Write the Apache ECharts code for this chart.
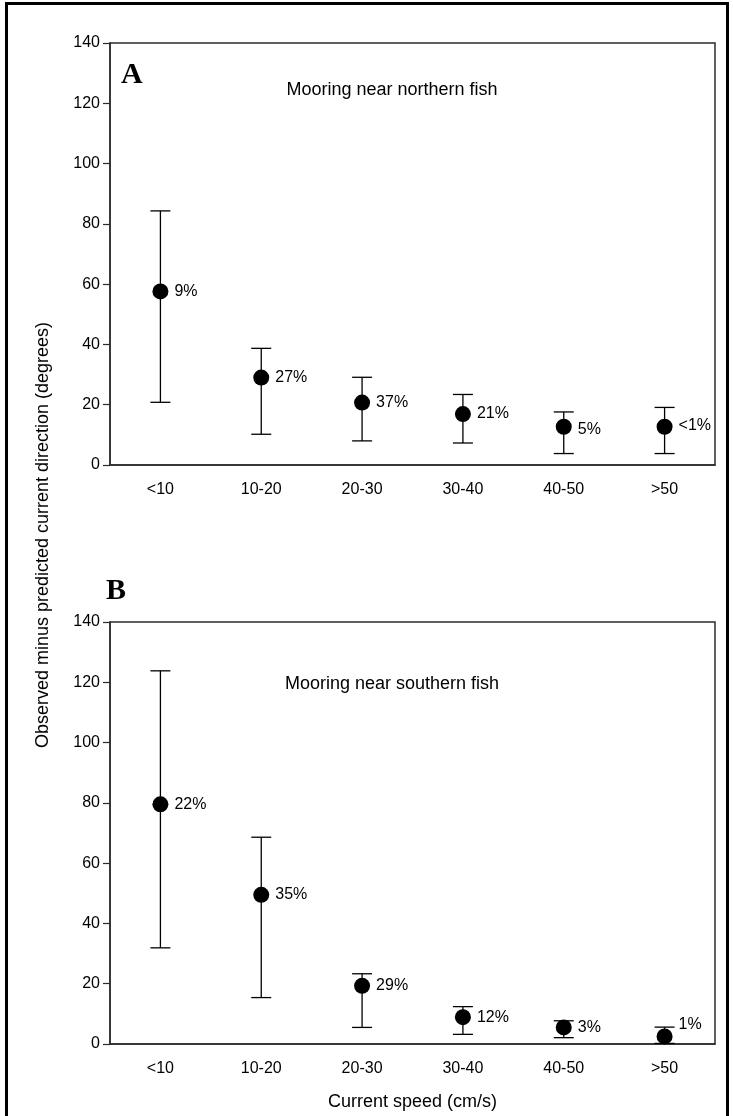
<!DOCTYPE html>
<html><head><meta charset="utf-8">
<script src="https://cdn.jsdelivr.net/npm/echarts@6/dist/echarts.min.js"></script>
<style>
html,body{margin:0;padding:0;background:#fff;}
#chart{position:absolute;left:0;top:0;width:733px;height:1116px;}
#frame{position:absolute;left:5px;top:2px;width:724px;height:1130px;border:3px solid #000;box-sizing:border-box;pointer-events:none;}
</style></head><body>
<div id="chart"></div><div id="frame"></div>
<script>
const categories = ['<10', '10-20', '20-30', '30-40', '40-50', '>50'];
const yTickMin = 0, yTickMax = 140, yTickStep = 20;

const meanA = [57.6, 29.0, 20.7, 16.9, 12.7, 12.7];
const lowA  = [20.8, 10.2, 8.0, 7.3, 3.8, 3.8];
const highA = [84.3, 38.7, 29.1, 23.4, 17.6, 19.1];
const pctA  = ['9%', '27%', '37%', '21%', '5%', '<1%'];

const meanB = [79.5, 49.5, 19.3, 8.9, 5.5, 2.5];
const lowB  = [31.9, 15.4, 5.5, 3.2, 2.1, 0.2];
const highB = [123.8, 68.6, 23.3, 12.4, 7.7, 5.6];
const pctB  = ['22%', '35%', '29%', '12%', '3%', '1%'];

const panelTitles = ['Mooring near northern fish', 'Mooring near southern fish'];
const panelLetters = ['A', 'B'];
const xTitle = 'Current speed (cm/s)';
const yTitle = 'Observed minus predicted current direction (degrees)';

const FONT = '"Liberation Sans", Arial, sans-serif';
const AX = '#2b2b2b';
const TXT = '#000';

function errorRender(params, api) {
  const x = api.value(0);
  const lo = api.coord([x, api.value(1)]);
  const hi = api.coord([x, api.value(2)]);
  const half = 10;
  const style = { stroke: '#000', lineWidth: 1.3 };
  return { type: 'group', children: [
    { type: 'line', shape: { x1: hi[0], y1: hi[1], x2: lo[0], y2: lo[1] }, style },
    { type: 'line', shape: { x1: hi[0] - half, y1: hi[1], x2: hi[0] + half, y2: hi[1] }, style },
    { type: 'line', shape: { x1: lo[0] - half, y1: lo[1], x2: lo[0] + half, y2: lo[1] }, style }
  ]};
}

const gridTops = [43, 622];
const grids = gridTops.map(t => ({ left: 110, top: t, width: 605, height: 422, show: true, borderColor: AX, borderWidth: 1.5, backgroundColor: 'transparent' }));

const xAxes = [0, 1].map(i => ({
  type: 'category', gridIndex: i, data: categories, boundaryGap: true,
  axisLine: { lineStyle: { color: AX, width: 1.5 } },
  axisTick: { alignWithLabel: true, length: 7, lineStyle: { color: AX, width: 1.2 } },
  axisLabel: { fontSize: 16, color: TXT, fontFamily: FONT, margin: 17 },
  splitLine: { show: false },
  name: i === 1 ? xTitle : '', nameLocation: 'middle', nameGap: 49,
  nameTextStyle: { fontSize: 18, color: TXT, fontFamily: FONT }
}));

const yAxes = [0, 1].map(i => ({
  type: 'value', gridIndex: i, min: yTickMin, max: yTickMax, interval: yTickStep,
  axisLine: { show: true, lineStyle: { color: AX, width: 1.5 } },
  axisTick: { show: true, length: 7, lineStyle: { color: AX, width: 1.2 } },
  axisLabel: { fontSize: 16, color: TXT, fontFamily: FONT, margin: 10 },
  splitLine: { show: false }
}));

function makeSeries(i, mean, low, high, pct, labelOffsets) {
  return [
    {
      type: 'custom', xAxisIndex: i, yAxisIndex: i, renderItem: errorRender,
      encode: { x: 0, y: [1, 2] }, z: 2,
      data: mean.map((m, k) => [k, low[k], high[k]])
    },
    {
      type: 'scatter', xAxisIndex: i, yAxisIndex: i, symbol: 'circle', symbolSize: 16, z: 3,
      itemStyle: { color: '#000', opacity: 1 },
      label: { show: true, position: 'right', distance: 6, color: TXT, fontSize: 16, fontFamily: FONT,
        formatter: p => pct[p.dataIndex] },
      data: mean.map((m, k) => ({ value: [k, m], label: { offset: labelOffsets[k] || [0, 0] } }))
    }
  ];
}

const option = {
  animation: false,
  backgroundColor: '#fff',
  grid: grids,
  xAxis: xAxes,
  yAxis: yAxes,
  series: [
    ...makeSeries(0, meanA, lowA, highA, pctA, [[0,0],[0,0],[0,0],[0,0],[0,3],[0,-1]]),
    ...makeSeries(1, meanB, lowB, highB, pctB, [[0,0],[0,0],[0,0],[0,0],[0,0],[0,-12]])
  ],
  graphic: [
    { type: 'text', x: 43, y: 535, rotation: Math.PI / 2,
      style: { text: yTitle, font: '18px ' + FONT, fill: TXT, align: 'center', verticalAlign: 'middle' } },
    { type: 'text', x: 121, y: 75,
      style: { text: panelLetters[0], font: 'bold 30px "Liberation Serif", "Times New Roman", serif', fill: '#000', align: 'left', verticalAlign: 'middle' } },
    { type: 'text', x: 106, y: 591,
      style: { text: panelLetters[1], font: 'bold 30px "Liberation Serif", "Times New Roman", serif', fill: '#000', align: 'left', verticalAlign: 'middle' } },
    { type: 'text', x: 392, y: 90,
      style: { text: panelTitles[0], font: '18px ' + FONT, fill: TXT, align: 'center', verticalAlign: 'middle' } },
    { type: 'text', x: 392, y: 684,
      style: { text: panelTitles[1], font: '18px ' + FONT, fill: TXT, align: 'center', verticalAlign: 'middle' } }
  ]
};

const chart = echarts.init(document.getElementById('chart'), null, { renderer: 'canvas' });
chart.setOption(option);
</script>
</body></html>
